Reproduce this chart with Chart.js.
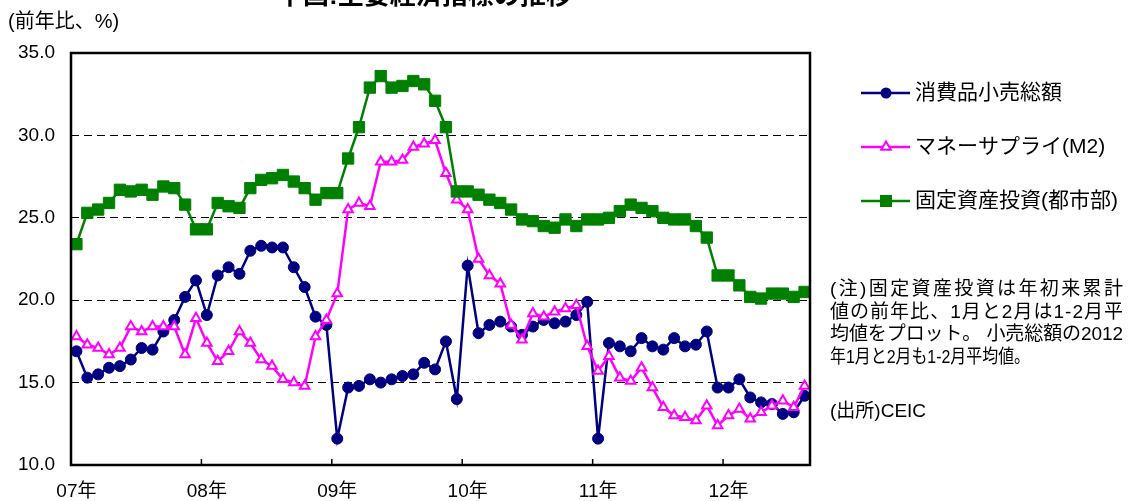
<!DOCTYPE html>
<html lang="ja">
<head>
<meta charset="utf-8">
<script src="https://cdn.jsdelivr.net/npm/chart.js@4.4.1/dist/chart.umd.min.js"></script>
<style>
  html, body { margin: 0; padding: 0; background: #fff; }
  #wrap { width: 1133px; height: 501px; }
</style>
</head>
<body>
<div id="wrap"><canvas id="chart" width="1133" height="501"></canvas></div>
<script>
// 中国:主要経済指標の推移 (2007年2月〜2012年9月、前年比%)
const yearLabels = ['07年', '08年', '09年', '10年', '11年', '12年'];
const seriesNames = ['消費品小売総額', 'マネーサプライ(M2)', '固定資産投資(都市部)'];

const retailSales = [
  16.9, 15.3, 15.5, 15.9, 16.0, 16.4, 17.1, 17.0, 18.1, 18.8, 20.2, 21.2,
  19.1, 21.5, 22.0, 21.6, 23.0, 23.3, 23.2, 23.2, 22.0, 20.8, 19.0, 18.5,
  11.6, 14.7, 14.8, 15.2, 15.0, 15.2, 15.4, 15.5, 16.2, 15.8, 17.5, 14.0,
  22.1, 18.0, 18.5, 18.7, 18.4, 17.9, 18.4, 18.8, 18.6, 18.7, 19.1, 19.9,
  11.6, 17.4, 17.2, 16.9, 17.7, 17.2, 17.0, 17.7, 17.2, 17.3, 18.1, 14.7,
  14.7, 15.2, 14.1, 13.8, 13.7, 13.1, 13.2, 14.2
];
const moneySupply = [
  17.8, 17.3, 17.1, 16.7, 17.1, 18.4, 18.1, 18.4, 18.4, 18.4, 16.7, 18.9,
  17.4, 16.3, 16.9, 18.1, 17.4, 16.4, 16.0, 15.2, 15.0, 14.8, 17.8, 18.8,
  20.4, 25.5, 25.9, 25.7, 28.4, 28.4, 28.5, 29.3, 29.5, 29.7, 27.7, 26.1,
  25.5, 22.5, 21.5, 21.0, 18.5, 17.6, 19.2, 19.0, 19.3, 19.5, 19.7, 17.2,
  15.7, 16.6, 15.3, 15.1, 15.9, 14.7, 13.5, 13.0, 12.9, 12.7, 13.6, 12.4,
  13.0, 13.4, 12.8, 13.2, 13.6, 13.9, 13.5, 14.8
];
const fixedInvestment = [
  23.4, 25.3, 25.5, 25.9, 26.7, 26.6, 26.7, 26.4, 26.9, 26.8, 25.8, 24.3,
  24.3, 25.9, 25.7, 25.6, 26.8, 27.3, 27.4, 27.6, 27.2, 26.8, 26.1, 26.5,
  26.5, 28.6, 30.5, 32.9, 33.6, 32.9, 33.0, 33.3, 33.1, 32.1, 30.5, 26.6,
  26.6, 26.4, 26.1, 25.9, 25.5, 24.9, 24.8, 24.5, 24.4, 24.9, 24.5, 24.9,
  24.9, 25.0, 25.4, 25.8, 25.6, 25.4, 25.0, 24.9, 24.9, 24.5, 23.8, 21.5,
  21.5, 20.9, 20.2, 20.1, 20.4, 20.4, 20.2, 20.5
];

const noteLines = [
  '(注)固定資産投資は年初来累計',
  '値の前年比、1月と2月は1-2月平',
  '均値をプロット。 小売総額の2012',
  '年1月と2月も1-2月平均値。'
];
const sourceText = '(出所)CEIC';

// 月次カテゴリ (2007/2 から)
const categories = [];
for (let i = 0; i < retailSales.length; i++) {
  const m = 1 + i;
  categories.push(`${2007 + Math.floor(m / 12)}/${(m % 12) + 1}`);
}

const NAVY = '#000080', PINK = '#ff00ff', GREEN = '#008000';
const JP = '"Liberation Sans", "Noto Sans CJK JP", sans-serif';

// 文字を指定幅に均等割付する
function drawJustified(ctx, text, x, y, width) {
  const chars = [...text];
  const ws = chars.map(c => ctx.measureText(c).width);
  const total = ws.reduce((a, b) => a + b, 0);
  const gap = (width - total) / (chars.length - 1);
  let cx = x;
  chars.forEach((c, i) => { ctx.fillText(c, cx, y); cx += ws[i] + gap; });
}

function drawMarker(ctx, style, x, y, color) {
  ctx.save();
  ctx.fillStyle = color;
  ctx.strokeStyle = color;
  if (style === 'circle') {
    ctx.beginPath(); ctx.arc(x, y, 5.5, 0, Math.PI * 2); ctx.fill();
  } else if (style === 'rect') {
    ctx.fillRect(x - 6, y - 6, 12, 12);
  } else {
    ctx.fillStyle = '#fff'; ctx.lineWidth = 2;
    ctx.beginPath();
    ctx.moveTo(x, y - 5.5); ctx.lineTo(x + 4.8, y + 2.8); ctx.lineTo(x - 4.8, y + 2.8);
    ctx.closePath(); ctx.fill(); ctx.stroke();
  }
  ctx.restore();
}

const decorations = {
  id: 'decorations',
  afterDraw(chart) {
    const { ctx, chartArea: area, scales: { x } } = chart;
    ctx.save();

    // 枠線
    ctx.strokeStyle = '#000';
    ctx.lineWidth = 2.5;
    ctx.strokeRect(area.left, area.top, area.right - area.left, area.bottom - area.top);

    // 年の区切り目盛 (内向き)
    ctx.lineWidth = 1.5;
    for (let i = 12; i < categories.length; i += 12) {
      const px = (x.getPixelForValue(i - 1) + x.getPixelForValue(i)) / 2;
      ctx.beginPath(); ctx.moveTo(px, area.bottom - 6); ctx.lineTo(px, area.bottom); ctx.stroke();
    }

    ctx.fillStyle = '#000';
    // タイトル (上端で切れている)
    ctx.font = `bold 26px ${JP}`;
    ctx.textAlign = 'left';
    ctx.textBaseline = 'middle';
    ctx.fillText('中国:主要経済指標の推移', 277, -3, 312);

    // 単位
    ctx.font = `20px ${JP}`;
    ctx.fillText('(前年比、%)', 8, 22);

    // 凡例
    const legendRows = [
      { y: 93, color: NAVY, style: 'circle' },
      { y: 147, color: PINK, style: 'triangle' },
      { y: 201, color: GREEN, style: 'rect' }
    ];
    legendRows.forEach((row, i) => {
      ctx.strokeStyle = row.color;
      ctx.lineWidth = 2.5;
      ctx.beginPath(); ctx.moveTo(861, row.y); ctx.lineTo(910, row.y); ctx.stroke();
      drawMarker(ctx, row.style, 886, row.y, row.color);
      ctx.fillStyle = '#000';
      ctx.font = `21px ${JP}`;
      ctx.fillText(seriesNames[i], 915, row.y, 212);
    });

    // 注記
    ctx.font = `19px ${JP}`;
    noteLines.forEach((line, i) => {
      const ly = 290 + i * 22.5;
      if (i < 3) drawJustified(ctx, line, 830, ly, 293);
      else ctx.fillText(line, 830, ly, 200);
    });
    ctx.fillText(sourceText, 830, 412);

    ctx.restore();
  }
};

new Chart(document.getElementById('chart'), {
  type: 'line',
  data: {
    labels: categories,
    datasets: [
      {
        label: seriesNames[0], data: retailSales, order: 2,
        borderColor: NAVY, backgroundColor: NAVY, borderWidth: 2.5,
        pointStyle: 'circle', pointRadius: 5.5, pointBorderWidth: 1,
        pointBackgroundColor: NAVY, pointBorderColor: NAVY
      },
      {
        label: seriesNames[1], data: moneySupply, order: 1,
        borderColor: PINK, backgroundColor: '#fff', borderWidth: 2.5,
        pointStyle: 'triangle', pointRadius: 5.5, pointBorderWidth: 2,
        pointBackgroundColor: '#fff', pointBorderColor: PINK
      },
      {
        label: seriesNames[2], data: fixedInvestment, order: 0,
        borderColor: GREEN, backgroundColor: GREEN, borderWidth: 2.5,
        pointStyle: 'rect', pointRadius: 8, pointBorderWidth: 1,
        pointBackgroundColor: GREEN, pointBorderColor: GREEN
      }
    ]
  },
  options: {
    responsive: false,
    animation: false,
    events: [],
    layout: { padding: { top: 53, right: 323, left: 0, bottom: 0 } },
    elements: { line: { tension: 0 } },
    plugins: { legend: { display: false }, tooltip: { enabled: false } },
    scales: {
      x: {
        type: 'category',
        offset: true,
        grid: { display: false, drawTicks: false },
        border: { display: false },
        ticks: {
          autoSkip: false, maxRotation: 0, padding: 15, color: '#000',
          font: { family: JP, size: 19 },
          callback: (v, i) => (i % 12 === 0 ? yearLabels[i / 12] : '')
        },
        afterFit: s => { s.height = 36; }
      },
      y: {
        min: 10, max: 35,
        grid: {
          drawTicks: false, lineWidth: 1,
          color: c => (c.tick.value === 10 || c.tick.value === 35 ? 'rgba(0,0,0,0)' : '#000')
        },
        border: { display: false, dash: [8, 5] },
        ticks: {
          stepSize: 5, padding: 16, color: '#000',
          font: { family: JP, size: 19 },
          callback: v => v.toFixed(1)
        },
        afterFit: s => { s.width = 71; }
      }
    }
  },
  plugins: [decorations]
});
</script>
</body>
</html>
